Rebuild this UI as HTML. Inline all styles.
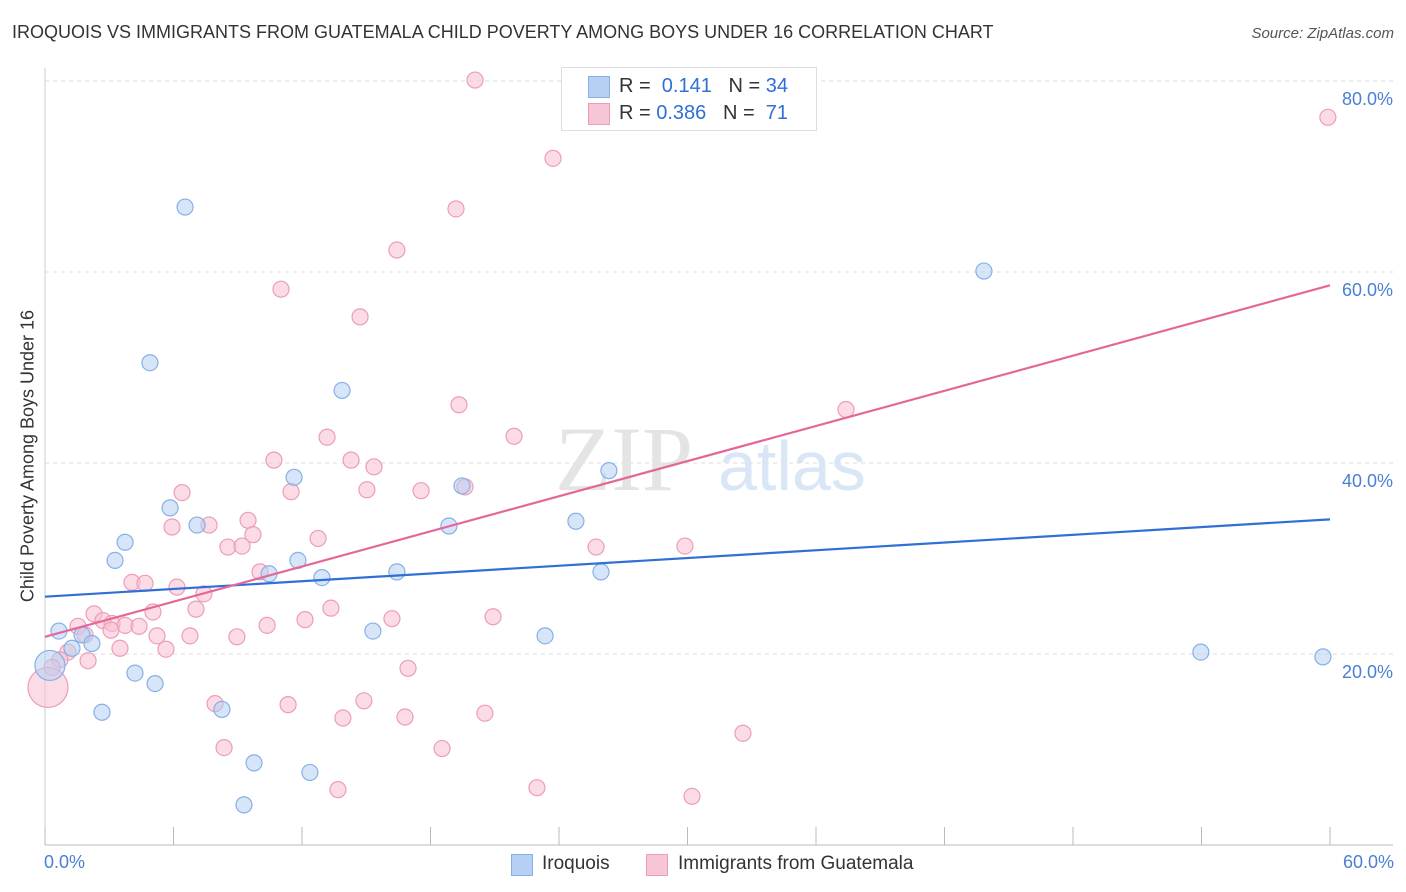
<!DOCTYPE html>
<html><head><meta charset="utf-8"><style>
body{margin:0;background:#fff;font-family:"Liberation Sans",sans-serif;}
#wrap{position:relative;width:1406px;height:892px;overflow:hidden;}
.t{position:absolute;white-space:nowrap;}
</style></head><body>
<div id="wrap">
<div class="t" style="left:12px;top:22px;font-size:18px;color:#333;">IROQUOIS VS IMMIGRANTS FROM GUATEMALA CHILD POVERTY AMONG BOYS UNDER 16 CORRELATION CHART</div>
<div class="t" style="right:12px;top:25px;font-size:15px;color:#555;font-style:italic;">Source: ZipAtlas.com</div>
<svg id="svg" width="1406" height="892" style="position:absolute;left:0;top:0"></svg>
</div>
<script>
const blueX=[6.54,4.90,13.87,11.63,19.47,26.33,5.84,7.10,3.74,18.86,24.79,3.27,11.81,10.46,12.93,16.43,25.96,0.65,1.73,2.19,1.26,15.31,23.35,4.20,5.14,2.66,8.26,9.76,12.37,9.29,43.84,53.97,59.67,0.23];
const blueY=[66.8,50.5,47.6,38.5,37.6,39.2,35.3,33.5,31.7,33.4,33.9,29.8,29.8,28.4,28.0,28.6,28.6,22.4,22.0,21.1,20.6,22.4,21.9,18.0,16.9,13.9,14.2,8.6,7.6,4.2,60.1,20.2,19.7,18.8];
const pinkX=[20.08,59.90,23.72,19.19,16.43,11.02,14.71,19.33,37.40,13.17,21.90,10.69,14.29,15.36,6.40,11.49,15.03,17.56,19.61,5.93,7.66,9.48,9.71,12.75,8.54,9.20,25.73,29.88,10.04,4.06,4.67,6.16,7.42,7.05,5.04,13.35,12.14,16.20,20.92,2.29,2.71,3.13,3.74,4.39,3.08,1.54,1.87,5.23,6.77,8.96,10.37,3.50,5.65,1.07,2.01,0.70,0.33,16.95,7.94,11.35,14.89,13.91,16.81,20.54,32.59,8.36,18.54,13.68,22.97,30.21,0.14];
const pinkY=[80.1,76.2,71.9,66.6,62.3,58.2,55.3,46.1,45.6,42.7,42.8,40.3,40.3,39.6,36.9,37.0,37.2,37.1,37.5,33.3,33.5,34.0,32.5,32.1,31.2,31.3,31.2,31.3,28.6,27.5,27.4,27.0,26.3,24.7,24.4,24.8,23.6,23.7,23.9,24.2,23.5,23.2,23.0,22.9,22.5,22.9,22.0,21.9,21.9,21.8,23.0,20.6,20.5,20.2,19.3,19.4,18.6,18.5,14.8,14.7,15.1,13.3,13.4,13.8,11.7,10.2,10.1,5.8,6.0,5.1,16.5];
const blueLine=[26.0,34.1];
const pinkLine=[21.8,58.6];
const yTicks=[20,40,60,80];
const yTickLabels=["20.0%","40.0%","60.0%","80.0%"];

const NS="http://www.w3.org/2000/svg";
const svg=document.getElementById('svg');
const X=v=>45+v/60*1285;
const Y=v=>845-v*9.55;
function mk(tag,at){const e=document.createElementNS(NS,tag);for(const k in at)e.setAttribute(k,at[k]);svg.appendChild(e);return e;}
// gridlines
yTicks.forEach((t,i)=>{
  const g=mk('line',{x1:45,x2:1393,y1:Y(t),y2:Y(t),stroke:'#ddd','stroke-dasharray':'4,4'});
  
  
  const tx=mk('text',{x:1393,y:Y(t)+24,'text-anchor':'end','font-size':18,fill:'#4a7fd4','font-family':'Liberation Sans'});
  tx.textContent=yTickLabels[i];
  
  
});
// axes
const ax=mk('line',{x1:45,x2:1393,y1:845,y2:845,stroke:'#bbb'});


const ay=mk('line',{x1:45,x2:45,y1:68,y2:845,stroke:'#ccc'});


for(let i=0;i<=10;i++){
  const v=i*6, tk=mk('line',{x1:X(v),x2:X(v),y1:827,y2:845,stroke:'#bbb'});
  
  
}
// watermark
const wm=mk('text',{x:555,y:490,'font-size':92,fill:'#e4e4e4','font-family':'Liberation Serif'});wm.textContent='ZIP';


const wm2=mk('text',{x:718,y:490,'font-size':70,fill:'#d8e6f6','font-family':'Liberation Sans'});wm2.textContent='atlas';


// points
function pts(xs,ys,fill,stroke,name){
  xs.forEach((x,i)=>{
    const big=(x<0.3);
    const c=mk('circle',{cx:X(x),cy:Y(ys[i]),r:big?(name==='pink-point'?20:15):8,fill:fill,'fill-opacity':0.55,stroke:stroke,'stroke-width':1.2});
    
    
  });
}
pts(pinkX,pinkY,'#f7bfd2','#ec9db7','pink-point');
pts(blueX,blueY,'#b5d0f3','#86b0e6','blue-point');
const bl=mk('line',{x1:X(0),y1:Y(blueLine[0]),x2:X(60),y2:Y(blueLine[1]),stroke:'#2f6fd6','stroke-width':2.2});


const pl=mk('line',{x1:X(0),y1:Y(pinkLine[0]),x2:X(60),y2:Y(pinkLine[1]),stroke:'#e5679a','stroke-width':2.2});


</script>
<div class="t" style="left:28px;top:456px;font-size:18px;color:#333;transform:translate(-50%,-50%) rotate(-90deg);">Child Poverty Among Boys Under 16</div>
<div class="t" style="left:44px;top:852px;font-size:18px;color:#4a7fd4;">0.0%</div>
<div class="t" style="right:12px;top:852px;font-size:18px;color:#4a7fd4;">60.0%</div>
<div style="position:absolute;left:561px;top:67px;width:254px;height:62px;border:1px solid #ddd;background:#fff;font-size:20px;color:#333;">
 <div style="position:absolute;left:26px;top:8px;width:20px;height:20px;background:#b5d0f3;border:1px solid #86b0e6;"></div>
 <div class="t" style="left:57px;top:7px;">R = &nbsp;<span style="color:#2f6fd6">0.141</span> &nbsp; N = <span style="color:#2f6fd6">34</span></div>
 <div style="position:absolute;left:26px;top:35px;width:20px;height:20px;background:#f7c6d6;border:1px solid #ec9db7;"></div>
 <div class="t" style="left:57px;top:34px;">R = <span style="color:#2f6fd6">0.386</span> &nbsp; N = &nbsp;<span style="color:#2f6fd6">71</span></div>
</div>
<div style="position:absolute;left:0;top:852px;width:1406px;font-size:19px;color:#333;">
 <div style="position:absolute;left:511px;top:2px;width:20px;height:20px;background:#b5d0f3;border:1px solid #86b0e6;"></div>
 <div class="t" style="left:542px;top:1px;">Iroquois</div>
 <div style="position:absolute;left:646px;top:2px;width:20px;height:20px;background:#f7c6d6;border:1px solid #ec9db7;"></div>
 <div class="t" style="left:678px;top:1px;">Immigrants from Guatemala</div>
</div>
</body></html>
